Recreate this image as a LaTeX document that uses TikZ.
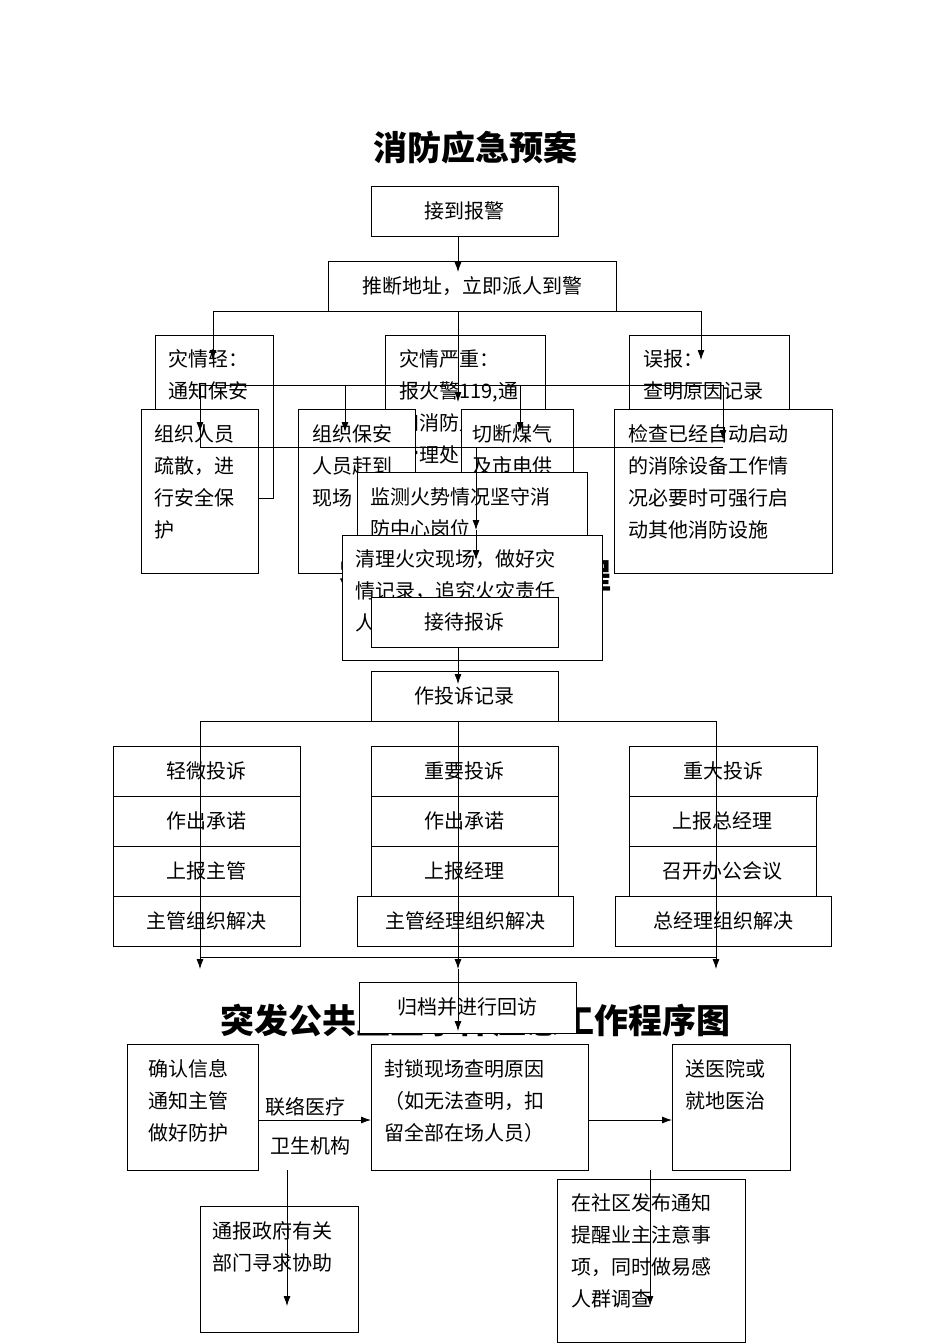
\documentclass[tikz,border=0pt]{standalone}
\usepackage{fontspec}
\usetikzlibrary{arrows.meta}
\setmainfont{Noto Sans CJK SC}
\begin{document}
\begin{tikzpicture}[x=1pt,y=-1pt,
  bx/.style={draw,fill=white,line width=0.8pt},
  tx/.style={anchor=base west,inner sep=0pt,font=\fontsize{20}{20}\selectfont},
  ct/.style={anchor=center,inner sep=0pt,font=\fontsize{20}{20}\selectfont},
  ttl/.style={anchor=center,inner sep=0pt,font=\fontsize{34}{34}\selectfont\bfseries},
  ln/.style={line width=0.8pt},
  ar/.style={line width=0.8pt,-{Latex[length=10pt,width=7pt]}}]
\useasboundingbox (0,0) rectangle (950,1344);
\fill[white] (0,0) rectangle (950,1344);
\node[ttl] (t1) at (475,148) {消防应急预案};
% top boxes
\draw[bx] (371,186) rectangle (558,236); \node[ct] (b1) at (464.5,211) {接到报警};
\draw[bx] (328,261) rectangle (616,311); \node[ct] (b2) at (472,286) {推断地址，立即派人到警};
\draw[bx] (155,335) rectangle (273,498);
\node[tx] (a1) at (168,366) {灾情轻：}; \node[tx] (a2) at (168,398) {通知保安};
\draw[bx] (385,335) rectangle (545,480);
\node[tx] (c1) at (399,366) {灾情严重：}; \node[tx] (c2) at (399,398) {报火警119,通};
\node[tx] (c3) at (399,430) {知消防监控}; \node[tx] (c4) at (399,462) {管理处};
\draw[bx] (629,335) rectangle (789,440);
\node[tx] (d1) at (643,366) {误报：}; \node[tx] (d2) at (643,398) {查明原因记录};
\draw[bx] (141,409) rectangle (258,573);
\node[tx] at (154,441) {组织人员}; \node[tx] at (154,473) {疏散，进};
\node[tx] at (154,505) {行安全保}; \node[tx] at (154,537) {护};
\draw[bx] (298,409) rectangle (415,573);
\node[tx] at (312,441) {组织保安}; \node[tx] at (312,473) {人员赶到};
\node[tx] at (312,505) {现场};
\draw[bx] (461,409) rectangle (573,530);
\node[tx] at (472,441) {切断煤气}; \node[tx] at (472,473) {及市电供}; \node[tx] at (472,505) {应};
\draw[bx] (614,409) rectangle (832,573);
\node[tx] at (628,441) {检查已经自动启动}; \node[tx] at (628,473) {的消除设备工作情};
\node[tx] at (628,505) {况必要时可强行启}; \node[tx] at (628,537) {动其他消防设施};
\draw[bx] (357,472) rectangle (587,560);
\node[tx] at (370,504) {监测火势情况坚守消}; \node[tx] at (370,536) {防中心岗位};
\node[ttl] (t2) at (475,575) {客户投诉处理流程};
\draw[bx] (342,535) rectangle (602,660);
\node[tx] at (355,566) {清理火灾现场，做好灾}; \node[tx] at (355,598) {情记录，追究火灾责任};
\node[tx] at (355,630) {人，并向上级部门汇报};
\draw[bx] (371,597) rectangle (558,647); \node[ct] at (464.5,622) {接待报诉};
\draw[bx] (371,671) rectangle (558,721); \node[ct] at (464.5,696) {作投诉记录};
% complaint columns
\foreach \x/\w/\t [count=\i] in {113/187/轻微投诉,371/187/重要投诉,629/188/重大投诉}{
  \draw[bx] (\x,746) rectangle ++(\w,50); \node[ct] at ({\x+\w/2},771) {\t};}
\foreach \x/\t in {113/作出承诺,371/作出承诺,629/上报总经理}{
  \draw[bx] (\x,796) rectangle ++(187,50); \node[ct] at ({\x+93.5},821) {\t};}
\foreach \x/\t in {113/上报主管,371/上报经理,629/召开办公会议}{
  \draw[bx] (\x,846) rectangle ++(187,50); \node[ct] at ({\x+93.5},871) {\t};}
\draw[bx] (113,896) rectangle (300,946); \node[ct] at (206.5,921) {主管组织解决};
\draw[bx] (357,896) rectangle (573,946); \node[ct] at (465,921) {主管经理组织解决};
\draw[bx] (615,896) rectangle (831,946); \node[ct] at (723,921) {总经理组织解决};
% third part
\node[ttl] (t3) at (475,1020) {突发公共卫生事件应急工作程序图};
\draw[bx] (359,982) rectangle (576,1033); \node[ct] at (467,1007) {归档并进行回访};
\draw[bx] (127,1044) rectangle (258,1170);
\node[tx] at (148,1076) {确认信息}; \node[tx] at (148,1108) {通知主管}; \node[tx] at (148,1140) {做好防护};
\draw[bx] (371,1044) rectangle (588,1170);
\node[tx] at (384,1076) {封锁现场查明原因}; \node[tx] at (384,1108) {（如无法查明，扣};
\node[tx] at (384,1140) {留全部在场人员）};
\draw[bx] (672,1044) rectangle (790,1170);
\node[tx] at (685,1076) {送医院或}; \node[tx] at (685,1108) {就地医治};
\node[tx] at (265,1114) {联络医疗}; \node[tx] at (270,1153) {卫生机构};
\draw[bx] (200,1206) rectangle (358,1332);
\node[tx] at (212,1238) {通报政府有关}; \node[tx] at (212,1270) {部门寻求协助};
\draw[bx] (557,1179) rectangle (745,1342);
\node[tx] at (571,1210) {在社区发布通知}; \node[tx] at (571,1242) {提醒业主注意事};
\node[tx] at (571,1274) {项，同时做易感}; \node[tx] at (571,1306) {人群调查};
% connectors
\draw[ar] (458,236) -- (458,272);
\draw[ln] (213,311) -- (701,311);
\draw[ar] (213,311) -- (213,360);
\draw[ar] (701,311) -- (701,360);
\draw[ar] (458,311) -- (458,402);
\draw[ln] (200,385) -- (723,385);
\draw[ln] (200,385) -- (200,447);
\draw[ar] (200,385) -- (200,432);
\draw[ar] (345,385) -- (345,432);
\draw[ar] (520,385) -- (520,432);
\draw[ar] (723,385) -- (723,440);
\draw[ln] (200,447) -- (723,447);
\draw[ar] (476,447) -- (476,530);
\draw[ar] (476,530) -- (476,560);
\draw[ln] (258,498) -- (273,498);
\draw[ar] (458,647) -- (458,684);
\draw[ln] (200,721) -- (716,721);
\draw[ln] (458,721) -- (458,957);
\draw[ln] (200,721) -- (200,957); \draw[ln] (716,721) -- (716,957);
\draw[ln] (200,957) -- (716,957);
\draw[ar] (200,957) -- (200,969);
\draw[ar] (716,957) -- (716,969);
\draw[ar] (458,957) -- (458,969);
\draw[ar] (458,969) -- (458,1031);
\draw[ar] (258,1120) -- (371,1120);
\draw[ar] (588,1120) -- (672,1120);
\draw[ar] (287,1170) -- (287,1306);
\draw[ar] (650,1170) -- (650,1306);
\end{tikzpicture}
\end{document}
